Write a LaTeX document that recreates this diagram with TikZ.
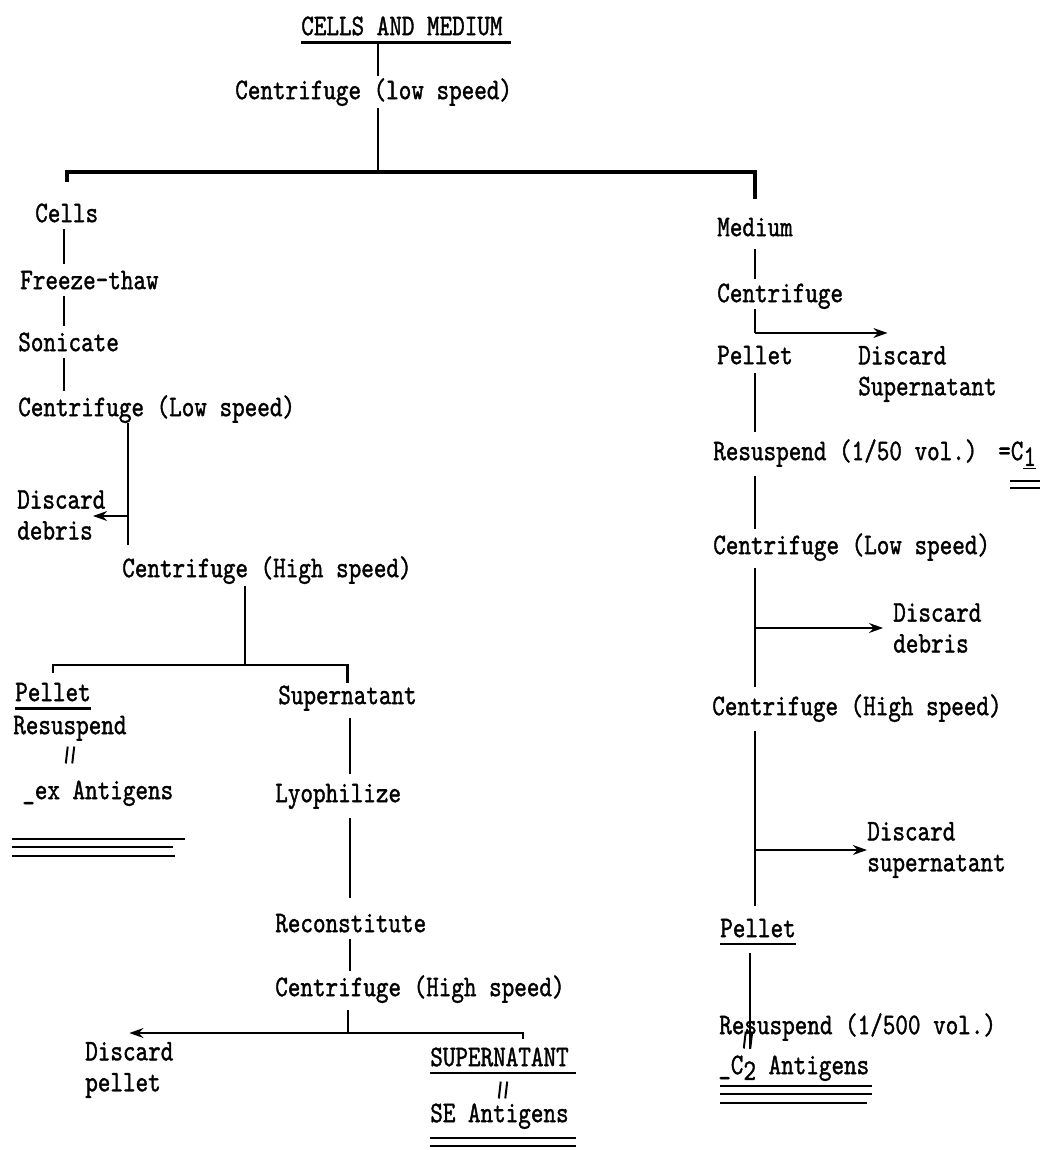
\documentclass[tikz,border=0pt]{standalone}
\usepackage{fontspec}
\usetikzlibrary{arrows.meta, positioning, calc}
\newfontfamily\typewr{lmmono10-regular}[Extension=.otf, FakeStretch=0.8, FakeBold=1.2]
\newcommand{\typed}{\fontsize{21.3}{22}\selectfont\typewr}
\newcommand{\sublow}[1]{\raisebox{-0.45ex}{#1}}
\tikzset{
  stage/.style={
    font=\typed, inner sep=0pt, anchor=west,
    text height=13pt, text depth=0pt,
  },
  stage2/.style={
    font=\typed, inner sep=0pt, anchor=west, align=left,
  },
  link/.style={
    line width=1.2pt, draw=black, shorten <=6pt, shorten >=6pt,
  },
  bus/.style={
    line width=2.6pt, draw=black,
  },
  bus2/.style={
    line width=1.7pt, draw=black,
  },
  arrow/.style={
    -{Stealth[length=10pt,width=7pt]}, line width=1.5pt, draw=black,
  },
  uline/.style={
    line width=1.5pt, draw=black,
  },
  ditto/.pic={
    \draw[line width=1.4pt] (-3pt,-6pt) -- (-1.6pt,6pt)
                            (1.6pt,-6pt) -- (3pt,6pt);
  }
}

\begin{document}
\begin{tikzpicture}[x=0.025cm, y=-0.025cm]

  \useasboundingbox (0,0) rectangle (1043,1150);

  \node[stage] (cellmed) at (301,26)  {CELLS AND MEDIUM};
  \node[stage] (cent1)   at (235,90)  {Centrifuge (low speed)};
  \coordinate  (trunk)   at (378,172);

  \draw[uline] ([yshift=-5pt]cellmed.south west) -- ([xshift=6pt,yshift=-5pt]cellmed.south east);
  \draw[link, shorten <=5pt, shorten >=3pt] (cellmed.south -| trunk) -- (cent1.north -| trunk);
  \draw[link, shorten <=6pt, shorten >=0pt] (cent1.south -| trunk) -- (trunk);

  % cells
  \node[stage]  (cells) at (35,213)  {Cells};
  \node[stage]  (fthaw) at (20,280)  {Freeze-thaw};
  \node[stage]  (sonic) at (18,342)  {Sonicate};
  \node[stage]  (cent2) at (18,407)  {Centrifuge (Low speed)};
  \node[stage2] (disc1) at (17,515)  {Discard\\debris};
  \node[stage]  (cent3) at (122,568) {Centrifuge (High speed)};
  \coordinate   (lx)    at (64,0);
  \coordinate   (dx)    at (128,516);

  \draw[link, shorten <=5pt, shorten >=5pt] (cells.south -| lx) -- (fthaw.north -| lx);
  \draw[link, shorten <=5pt, shorten >=5pt] (fthaw.south -| lx) -- (sonic.north -| lx);
  \draw[link, shorten <=5pt, shorten >=5pt] (sonic.south -| lx) -- (cent2.north -| lx);
  \draw[link, shorten <=5pt, shorten >=10pt] (cent2.south -| dx) -- (cent3.north -| dx);
  \draw[arrow] (dx) -- ([xshift=-9pt]disc1.east |- dx);

  \node[stage] (pel1) at (15,692)  {Pellet};
  \node[stage] (res1) at (13,725)  {Resuspend};
  \node[stage] (exag) at (22,790)  {\_ex Antigens};
  \node[stage] (sup1) at (278,695) {Supernatant};
  \coordinate  (j2)   at (245,665);

  \draw[link, shorten <=6pt, shorten >=0pt] (cent3.south -| j2) -- (j2);
  \draw[bus2] ([yshift=7pt]pel1.north) |- (j2) -| ([yshift=2pt]sup1.north);
  \draw[uline] ([yshift=-5pt]pel1.south west) -- ([yshift=-5pt]pel1.south east);
  \pic at (70,755) {ditto};
  \foreach \off/\len in {28/173, 33.6/161, 40/163}
    \draw[uline] ([yshift=-\off pt]exag.south west) ++(-10,0) -- ++(\len,0);

  \node[stage]  (lyo)   at (275,793)  {Lyophilize};
  \node[stage]  (recon) at (275,923)  {Reconstitute};
  \node[stage]  (cent4) at (275,987)  {Centrifuge (High speed)};
  \node[stage2] (disc3) at (85,1070)  {Discard\\pellet};
  \node[stage]  (sup2)  at (430,1057) {SUPERNATANT};
  \node[stage]  (seag)  at (430,1113) {SE Antigens};
  \coordinate   (mx)    at (350,0);
  \coordinate   (j3)    at (348,1033);
  \coordinate   (j3r)   at (523,1033);

  \draw[link, shorten <=10pt, shorten >=7pt] (sup1.south -| mx) -- (lyo.north -| mx);
  \draw[link, shorten <=11pt, shorten >=11pt] (lyo.south -| mx) -- (recon.north -| mx);
  \draw[link, shorten <=5pt, shorten >=5pt] (recon.south -| mx) -- (cent4.north -| mx);
  \draw[link, shorten <=10pt, shorten >=0pt] (cent4.south -| j3) -- (j3);
  \draw[arrow] (j3) -- (disc3.north |- j3);
  \draw[bus2] (j3) -- (j3r) -- ([yshift=6pt]sup2.north -| j3r);
  \draw[uline] ([yshift=-4.5pt]sup2.south west) -- ([xshift=5pt,yshift=-4.5pt]sup2.south east);
  \pic at (503,1090) {ditto};
  \foreach \off in {10.9, 16.6}
    \draw[uline] ([yshift=-\off pt]seag.south west) -- ([xshift=5pt,yshift=-\off pt]seag.south east);

  % medium
  \node[stage]  (medium) at (717,227) {Medium};
  \node[stage]  (cent5)  at (717,293) {Centrifuge};
  \node[stage]  (pel2)   at (717,355) {Pellet};
  \node[stage2] (disc5)  at (858,374) {Discard\\Supernatant};
  \node[stage]  (res2)   at (713,451) {Resuspend (1/50 vol.)};
  \node[stage]  (c1)     at (998,451) {=C\sublow{\underline{1}}};
  \coordinate   (rx)     at (755,0);
  \coordinate   (j5)     at (755,333);

  \draw[bus] ([yshift=15pt]cells.north) |- (trunk) -| ([yshift=13pt]medium.north);
  \draw[link, shorten <=9pt, shorten >=3pt] (medium.south -| rx) -- (cent5.north -| rx);
  \draw[link, shorten <=5pt, shorten >=0pt] (cent5.south -| rx) -- (j5);
  \draw[arrow] (j5) -- ([xshift=21pt]disc5.west |- j5);
  \draw[link, shorten <=6pt, shorten >=7pt] (pel2.south -| rx) -- (res2.north -| rx);
  \foreach \off in {14.4, 19.4}
    \draw[uline] ([yshift=-\off pt]c1.south west) ++(12,0) -- ++(30,0);

  \node[stage]  (cent6) at (713,545)  {Centrifuge (Low speed)};
  \node[stage2] (disc6) at (893,628)  {Discard\\debris};
  \node[stage]  (cent7) at (712,706)  {Centrifuge (High speed)};
  \node[stage2] (disc7) at (867,850)  {Discard\\supernatant};
  \node[stage]  (pel3)  at (720,928)  {Pellet};
  \node[stage]  (res3)  at (719,1025) {Resuspend (1/500 vol.)};
  \node[stage]  (c2ag)  at (718,1065) {\_C\sublow{2} Antigens};
  \coordinate   (j6)    at (755,628);
  \coordinate   (j7)    at (755,850);
  \coordinate   (px)    at (750,0);

  \draw[link, shorten <=11pt, shorten >=5pt] (res2.south -| rx) -- (cent6.north -| rx);
  \draw[link, shorten <=10pt, shorten >=7pt] (cent6.south -| rx) -- (cent7.north -| rx);
  \draw[arrow] (j6) -- ([xshift=-7pt]disc6.west |- j6);
  \draw[link, shorten <=11pt, shorten >=9pt] (cent7.south -| rx) -- (pel3.north -| rx);
  \draw[arrow] (j7) -- (disc7.west |- j7);
  \draw[uline] ([yshift=-4.5pt]pel3.south west) -- ([yshift=-4.5pt]pel3.south east);
  \draw[link, shorten <=11pt, shorten >=5pt] (pel3.south -| px) -- (c2ag.north -| px);
  \pic at (748,1040) {ditto};
  \foreach \off/\len in {8/152, 13.7/152, 20.1/147}
    \draw[uline] ([yshift=-\off pt]c2ag.south west) ++(2,0) -- ++(\len,0);

\end{tikzpicture}
\end{document}
